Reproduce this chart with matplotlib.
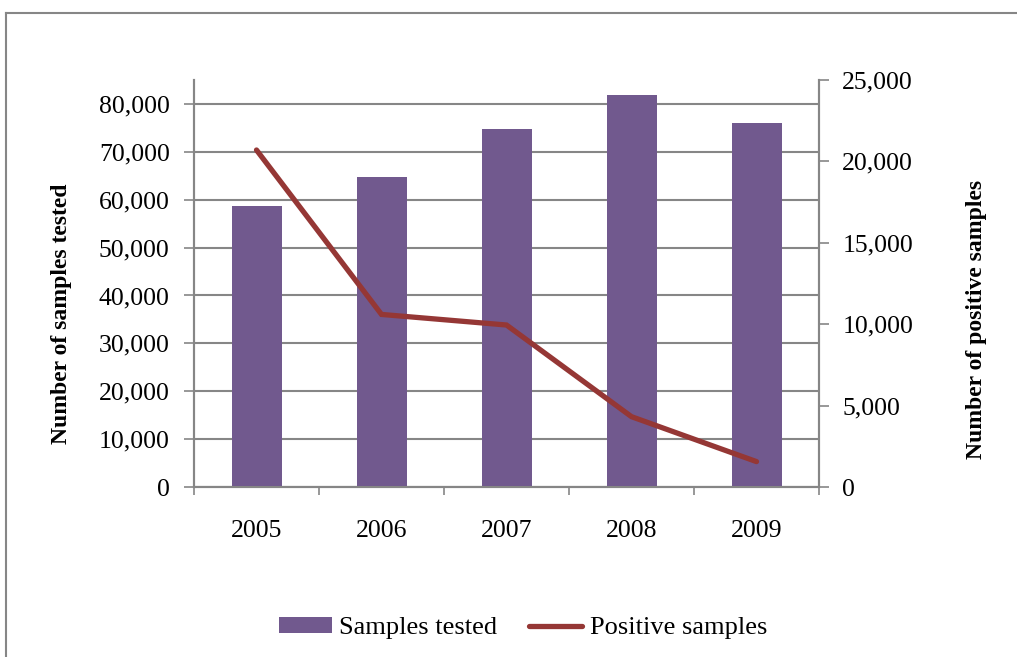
import matplotlib
matplotlib.use("Agg")
import matplotlib.pyplot as plt
from matplotlib.lines import Line2D
from matplotlib.ticker import FuncFormatter, MultipleLocator

years = ["2005", "2006", "2007", "2008", "2009"]
samples_tested = [58700, 64700, 74800, 81900, 76100]
positive_samples = [20700, 10600, 9950, 4320, 1560]

plt.rcParams['font.family'] = ['Liberation Serif', 'DejaVu Serif']

W, H = 1017, 657
fig = plt.figure(figsize=(W / 100, H / 100), dpi=100)
ax = fig.add_axes([194 / W, 1 - 487 / H, (819 - 194) / W, (487 - 80) / H])
ax2 = ax.twinx()

grey = '#868686'
purple = '#71598E'
red = '#953735'
fs = 18.5

x = list(range(len(years)))
ax.bar(x, samples_tested, width=0.4, color=purple, zorder=3, label='Samples tested')
ax2.plot(x, positive_samples, color=red, lw=3.8, solid_capstyle='round',
         solid_joinstyle='miter', label='Positive samples', zorder=4)

ax.set_xlim(-0.5, len(years) - 0.5)
ax.set_ylim(0, 85000)
ax2.set_ylim(0, 25000)
ax2.yaxis.set_major_locator(MultipleLocator(5000))
ax.set_yticks(range(0, 80001, 10000))
fmt = FuncFormatter(lambda v, p: f"{int(v):,}")
ax.yaxis.set_major_formatter(fmt)
ax2.yaxis.set_major_formatter(fmt)

ax.set_xticks(x)
ax.set_xticklabels(years)
ax.set_xticks([i - 0.5 for i in range(len(years) + 1)], minor=True)
ax.tick_params(axis='x', which='major', length=0, pad=24, labelsize=fs)
ax.tick_params(axis='x', which='minor', length=6, width=1.2, color=grey, direction='out')
ax.tick_params(axis='y', length=7, width=1.2, color=grey, direction='out', pad=10.5, labelsize=fs)
ax2.tick_params(axis='y', length=7, width=1.2, color=grey, direction='out', pad=9.8, labelsize=fs)

ax.grid(axis='y', color=grey, lw=1.5, zorder=0)
ax.set_axisbelow(True)
for a in (ax, ax2):
    a.spines['top'].set_visible(False)
    for s in ('left', 'right', 'bottom'):
        a.spines[s].set_color(grey)
        a.spines[s].set_linewidth(1.5)

ax.set_ylabel('Number of samples tested', fontsize=17, fontweight='bold')
ax2.set_ylabel('Number of positive samples', fontsize=17, fontweight='bold')
ax.yaxis.set_label_coords((72 - 194) / (819 - 194), (487 - 314) / (487 - 80))
ax2.yaxis.set_label_coords((966 - 194) / (819 - 194), (487 - 319) / (487 - 80))

h1, l1 = ax.get_legend_handles_labels()
h2, l2 = ax2.get_legend_handles_labels()
fig.legend(h1 + h2, l1 + l2, loc='center', bbox_to_anchor=(523 / W, 1 - 628 / H),
           ncol=2, frameon=False, fontsize=19, handlelength=2.0, handleheight=0.55,
           handletextpad=0.3, columnspacing=1.2)

fig.add_artist(Line2D([6 / W, 1], [1 - 13 / H, 1 - 13 / H], color=grey, lw=1.5,
                      transform=fig.transFigure))
fig.add_artist(Line2D([6 / W, 6 / W], [0, 1 - 13 / H], color=grey, lw=1.5,
                      transform=fig.transFigure))

fig.savefig('out.png', dpi=100)
